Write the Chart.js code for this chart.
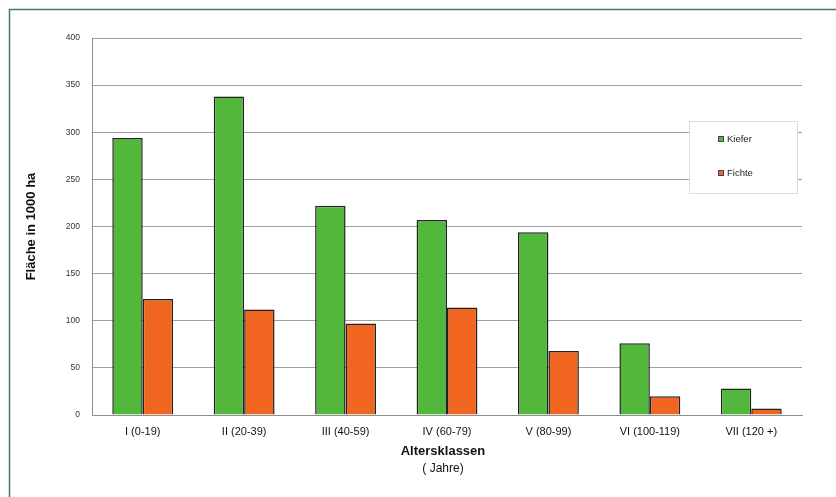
<!DOCTYPE html>
<html>
<head>
<meta charset="utf-8">
<script src="https://cdn.jsdelivr.net/npm/chart.js@4/dist/chart.umd.min.js"></script>
<style>
  html, body { margin: 0; padding: 0; background: #fff; }
  #wrap { position: relative; width: 836px; height: 497px; }
  canvas { display: block; }
</style>
</head>
<body>
<div id="wrap"><canvas id="c" width="836" height="497"></canvas></div>
<script>
// Age classes (years) and forest area in 1000 ha per tree species
const categories = ['I (0-19)', 'II (20-39)', 'III (40-59)', 'IV (60-79)', 'V (80-99)', 'VI (100-119)', 'VII (120 +)'];
const kiefer = [294, 338, 222, 207, 194, 76, 28];
const fichte = [123, 112, 97, 114, 68, 20, 7];
const seriesNames = ['Kiefer', 'Fichte'];
const yTitle = 'Fläche in 1000 ha';
const xTitle = ['Altersklassen', '( Jahre)'];

const FONT = '"Liberation Sans", Arial, sans-serif';
const GREEN = '#52b83c';
const ORANGE = '#f0651f';

// Outer frame (left and top edges) plus axis titles
const framePlugin = {
  id: 'frame',
  beforeDraw(chart) {
    const ctx = chart.ctx;
    ctx.save();
    ctx.fillStyle = '#fff';
    ctx.fillRect(0, 0, chart.width, chart.height);
    ctx.strokeStyle = '#3f7d57';
    ctx.lineWidth = 1.5;
    ctx.beginPath();
    ctx.moveTo(9.5, chart.height);
    ctx.lineTo(9.5, 9.5);
    ctx.lineTo(chart.width, 9.5);
    ctx.stroke();
    ctx.restore();
  },
  afterDraw(chart) {
    const ctx = chart.ctx;
    const a = chart.chartArea;
    ctx.save();
    ctx.fillStyle = '#111';
    ctx.textAlign = 'center';
    ctx.textBaseline = 'middle';
    // y axis title
    ctx.save();
    ctx.translate(31, (a.top + a.bottom) / 2);
    ctx.rotate(-Math.PI / 2);
    ctx.font = 'bold 13px ' + FONT;
    ctx.fillText(yTitle, 0, 0);
    ctx.restore();
    // x axis title
    const cx = 443;
    ctx.font = 'bold 13px ' + FONT;
    ctx.fillText(xTitle[0], cx, 451);
    ctx.font = '12px ' + FONT;
    ctx.fillText(xTitle[1], cx, 469);
    ctx.restore();
  }
};

// Boxed legend in the upper right of the plot area
const legendBoxPlugin = {
  id: 'legendBox',
  afterDatasetsDraw(chart) {
    const ctx = chart.ctx;
    const a = chart.chartArea;
    const x0 = a.right - 113, y0 = 121, w = 108, h = 72;
    ctx.save();
    ctx.fillStyle = '#fff';
    ctx.fillRect(x0, y0, w, h);
    ctx.strokeStyle = '#dcdcdc';
    ctx.lineWidth = 1;
    ctx.strokeRect(x0 + 0.5, y0 + 0.5, w, h);
    ctx.font = '9.5px ' + FONT;
    ctx.textBaseline = 'middle';
    ctx.textAlign = 'left';
    chart.data.datasets.forEach((ds, i) => {
      const y = 139 + i * 34;
      ctx.fillStyle = ds.backgroundColor;
      ctx.fillRect(718, y - 3, 6, 6);
      ctx.strokeStyle = '#444';
      ctx.strokeRect(718.5, y - 2.5, 5, 5);
      ctx.fillStyle = '#222';
      ctx.fillText(ds.label, 727, y);
    });
    ctx.restore();
  }
};

new Chart(document.getElementById('c'), {
  type: 'bar',
  data: {
    labels: categories,
    datasets: [
      { label: seriesNames[0], data: kiefer, backgroundColor: GREEN, borderColor: '#222', borderWidth: 1.5 },
      { label: seriesNames[1], data: fichte, backgroundColor: ORANGE, borderColor: '#222', borderWidth: 1.5 }
    ]
  },
  options: {
    responsive: false,
    animation: false,
    devicePixelRatio: 1,
    layout: { padding: { left: 0, right: 34, top: 38, bottom: 0 } },
    datasets: { bar: { categoryPercentage: 0.6, barPercentage: 1.0 } },
    plugins: {
      legend: { display: false },
      tooltip: { enabled: false }
    },
    scales: {
      x: {
        grid: { display: false, drawTicks: false },
        border: { display: true, color: '#8f8f8f', width: 1 },
        ticks: { color: '#111', font: { family: FONT, size: 11 }, padding: 10, maxRotation: 0, autoSkip: false },
        afterFit(scale) { scale.height = 82; }
      },
      y: {
        min: 0, max: 400,
        ticks: { stepSize: 50, color: '#333', font: { family: FONT, size: 8.5 }, padding: 12 },
        grid: { color: '#a0a0a0', lineWidth: 1, drawTicks: false },
        border: { display: true, color: '#8f8f8f', width: 1 },
        afterFit(scale) { scale.width = 92; }
      }
    }
  },
  plugins: [framePlugin, legendBoxPlugin]
});
</script>
</body>
</html>
